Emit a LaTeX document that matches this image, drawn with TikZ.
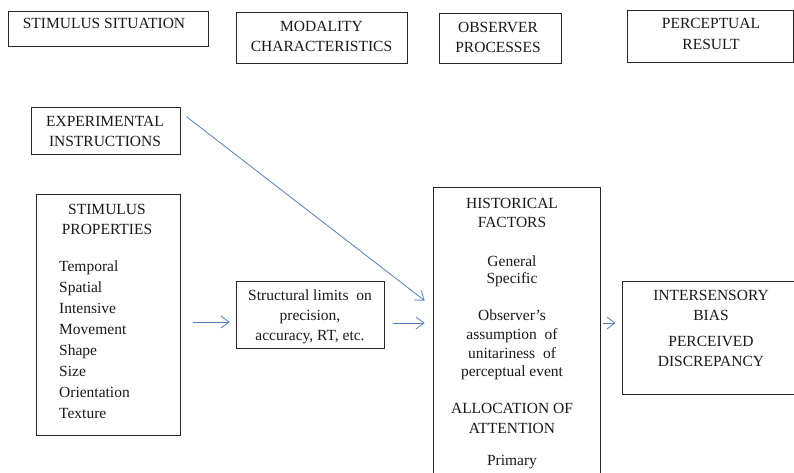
\documentclass[tikz,border=0pt]{standalone}
\usepackage{fontspec}
\setmainfont{Liberation Serif}
\usetikzlibrary{arrows.meta,calc}
\definecolor{arrblue}{RGB}{79,129,189}
\tikzset{
  box/.style={draw=black!85, line width=0.8pt, inner sep=0pt, fill=none},
  txt/.style={anchor=base, inner sep=0pt, font=\fontsize{15.5}{18}\selectfont, text=black!90},
  ltxt/.style={txt, anchor=base west},
  arr/.style={draw=arrblue, line width=0.8pt, -{Straight Barb[length=8pt,width=12pt,line width=0.8pt]}}
}
\begin{document}
\begin{tikzpicture}[x=1pt,y=-1pt]
\clip (0,0) rectangle (794,472);
\fill[white] (0,0) rectangle (794,472);
% boxes
\node[box, minimum width=200pt, minimum height=35pt] (sit) at (108,28.5) {};
\node[box, minimum width=171pt, minimum height=51pt] (mod) at (321.5,37.5) {};
\node[box, minimum width=122pt, minimum height=50pt] (obs) at (500,38) {};
\node[box, minimum width=166pt, minimum height=52pt] (res) at (710,36) {};
\node[box, minimum width=149pt, minimum height=47pt] (exp) at (105.5,130.5) {};
\node[box, minimum width=144pt, minimum height=241pt] (props) at (108,314.5) {};
\node[box, minimum width=148pt, minimum height=67pt] (struct) at (310,314.5) {};
\node[box, minimum width=167pt, minimum height=303pt] (hist) at (516.5,338.5) {};
\node[box, minimum width=178pt, minimum height=113pt] (inter) at (711,337.5) {};
% header texts
\node[txt] (tsit) at (104,28.3) {STIMULUS SITUATION};
\node[txt] (tmod1) at (321.5,31.7) {MODALITY};
\node[txt] (tmod2) at (321.5,51.7) {CHARACTERISTICS};
\node[txt] (tobs1) at (498,32.3) {OBSERVER};
\node[txt] (tobs2) at (498,52.3) {PROCESSES};
\node[txt] (tres1) at (711,28.3) {PERCEPTUAL};
\node[txt] (tres2) at (711,49.3) {RESULT};
% experimental instructions
\node[txt] (texp1) at (105,126.7) {EXPERIMENTAL};
\node[txt] (texp2) at (105,146.7) {INSTRUCTIONS};
% stimulus properties
\node[txt] (tp1) at (107,214.3) {STIMULUS};
\node[txt] (tp2) at (107,234.3) {PROPERTIES};
\node[ltxt] (l1) at (59,271.7) {Temporal};
\node[ltxt] (l2) at (59,292.6) {Spatial};
\node[ltxt] (l3) at (59,313.6) {Intensive};
\node[ltxt] (l4) at (59,334.5) {Movement};
\node[ltxt] (l5) at (59,355.5) {Shape};
\node[ltxt] (l6) at (59,376.4) {Size};
\node[ltxt] (l7) at (59,397.4) {Orientation};
\node[ltxt] (l8) at (59,418.3) {Texture};
% structural limits
\node[txt] (ts1) at (310,300.7) {Structural limits\ \ on};
\node[txt] (ts2) at (310,320.7) {precision,};
\node[txt] (ts3) at (310,340.7) {accuracy, RT, etc.};
% historical factors
\node[txt] (th1) at (512,208) {HISTORICAL};
\node[txt] (th2) at (512,227) {FACTORS};
\node[txt] (th3) at (512,266) {General};
\node[txt] (th4) at (512,283.5) {Specific};
\node[txt] (th5) at (512,320) {Observer’s};
\node[txt] (th6) at (512,339) {assumption\ \ of};
\node[txt] (th7) at (512,358) {unitariness\ \ of};
\node[txt] (th8) at (512,376.5) {perceptual event};
\node[txt] (th9) at (512,413) {ALLOCATION OF};
\node[txt] (th10) at (512,433) {ATTENTION};
\node[txt] (th11) at (512,465) {Primary};
% intersensory
\node[txt] (ti1) at (711,300) {INTERSENSORY};
\node[txt] (ti2) at (711,320) {BIAS};
\node[txt] (ti3) at (711,346.7) {PERCEIVED};
\node[txt] (ti4) at (711,366.7) {DISCREPANCY};
% connectors
\coordinate (ya) at (0,322);
\coordinate (yb) at (0,323);
\draw[arr, shorten <=13pt, shorten >=6pt] (props.east |- ya) -- (struct.west |- ya);
\draw[arr, shorten <=9pt, shorten >=8pt] (struct.east |- yb) -- (hist.west |- yb);
\draw[arr, shorten <=3pt, shorten >=6pt] (hist.east |- yb) -- (inter.west |- yb);
\draw[arr] ($(exp.north east)+(6,10)$) -- ($(hist.north west)+(-8,114)$);
\end{tikzpicture}
\end{document}
